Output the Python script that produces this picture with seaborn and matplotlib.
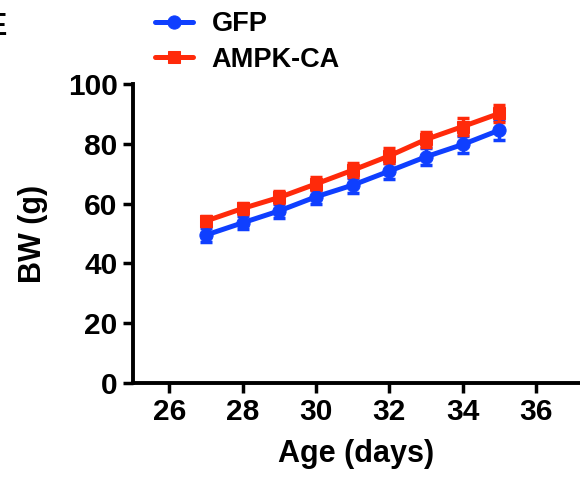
import numpy as np
import pandas as pd
import matplotlib
matplotlib.use("Agg")
import matplotlib.pyplot as plt
import seaborn as sns

# ── Data ────────────────────────────────────────────────────────────────────
age = [27, 28, 29, 30, 31, 32, 33, 34, 35]
gfp_mean = [49.5, 53.6, 57.6, 62.3, 66.2, 70.9, 75.7, 79.8, 84.6]
gfp_sem = [2.2, 2.2, 2.3, 2.4, 2.5, 2.6, 2.8, 3.0, 3.3]
ampk_mean = [54.2, 58.4, 62.1, 66.6, 71.2, 76.0, 81.5, 85.8, 90.2]
ampk_sem = [1.8, 1.9, 2.0, 2.2, 2.4, 2.5, 2.6, 2.7, 2.8]

groups = ["GFP", "AMPK-CA"]
colors = {"GFP": "#0F3FFF", "AMPK-CA": "#FF2A0A"}
markers = {"GFP": "o", "AMPK-CA": "s"}

df = pd.DataFrame({
    "Age": age * 2,
    "BW": gfp_mean + ampk_mean,
    "SEM": gfp_sem + ampk_sem,
    "Group": ["GFP"] * len(age) + ["AMPK-CA"] * len(age),
})

sns.set_style("ticks")
plt.rcParams["font.family"] = ["Liberation Sans", "DejaVu Sans"]
plt.rcParams["font.weight"] = "bold"
plt.rcParams["text.color"] = "black"
plt.rcParams["axes.labelcolor"] = "black"
plt.rcParams["xtick.color"] = "black"
plt.rcParams["ytick.color"] = "black"
plt.rcParams["axes.edgecolor"] = "black"

fig = plt.figure(figsize=(5.8, 4.78), dpi=100)
ax = fig.add_axes([0.229, 0.199, 0.771, 0.625])

for g in groups:
    sub = df[df["Group"] == g]
    ax.errorbar(sub["Age"], sub["BW"], yerr=sub["SEM"], fmt="none",
                ecolor=colors[g], elinewidth=2.5, capsize=4.5, capthick=2.5, zorder=3)
    sns.lineplot(data=sub, x="Age", y="BW", ax=ax, color=colors[g],
                 marker=markers[g], markersize=9.5 if g == "GFP" else 9,
                 markeredgecolor=colors[g], linewidth=3.6, label=g,
                 legend=False, zorder=4)

ax.set_xlim(25, 37.2)
ax.set_ylim(0, 100)
ax.set_xticks([26, 28, 30, 32, 34, 36])
ax.set_yticks([0, 20, 40, 60, 80, 100])
ax.tick_params(axis="both", labelsize=21.5, width=2.5, length=7, pad=4,
               colors="black")
for lab in ax.get_xticklabels() + ax.get_yticklabels():
    lab.set_fontweight("bold")
ax.set_xlabel("Age (days)", fontsize=22, fontweight="bold", labelpad=9)
ax.set_ylabel("BW (g)", fontsize=22, fontweight="bold", labelpad=14)
for side in ["left", "bottom"]:
    ax.spines[side].set_linewidth(2.8)
    ax.spines[side].set_color("black")
for side in ["top", "right"]:
    ax.spines[side].set_visible(False)

handles, labels = ax.get_legend_handles_labels()
fig.legend(handles, labels, loc="upper left", bbox_to_anchor=(0.225, 1.027),
           frameon=False, prop={"weight": "bold", "size": 19.5},
           handlelength=1.4, handletextpad=0.7, labelspacing=0.35)

fig.text(0.012, 0.975, "E", fontsize=22, fontweight="bold", ha="right", va="top")

fig.savefig("out.png", dpi=100)
